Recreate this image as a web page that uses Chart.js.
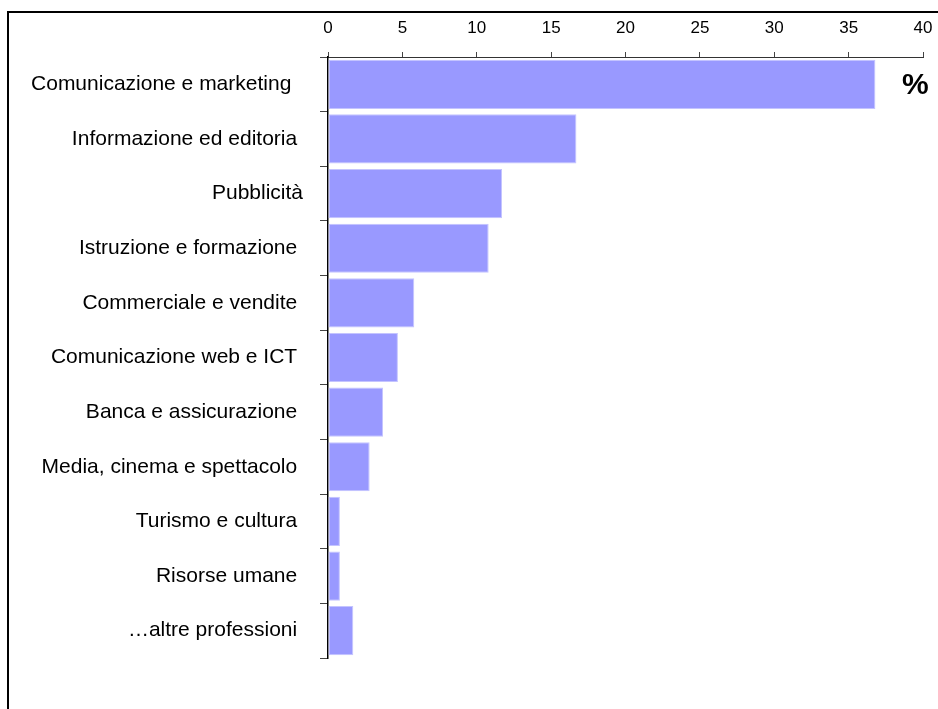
<!DOCTYPE html>
<html lang="it">
<head>
    <meta charset="UTF-8">
    <title>Professioni</title>
    <script src="https://cdn.jsdelivr.net/npm/chart.js"></script>
    <style>
        html, body { margin: 0; padding: 0; background: #fff; overflow: hidden; }
        #frame { position: absolute; left: 7px; top: 11px; width: 1000px; height: 800px; border: 2px solid #000; }
        #wrap { position: absolute; left: 0; top: 0; width: 938px; height: 709px; }
        #pct { position: absolute; left: 902px; top: 67px; font: bold 30px "Liberation Sans", Arial, sans-serif; color: #000; }
    </style>
</head>
<body>
    <div id="frame"></div>
    <div id="wrap"><canvas id="chart" width="938" height="709"></canvas></div>
    <div id="pct">%</div>

    <script>
        // categories (trailing spaces as in the source labels) and percentages
        const categories = [
            'Comunicazione e marketing  ',
            'Informazione ed editoria ',
            'Pubblicità',
            'Istruzione e formazione ',
            'Commerciale e vendite ',
            'Comunicazione web e ICT ',
            'Banca e assicurazione ',
            'Media, cinema e spettacolo ',
            'Turismo e cultura ',
            'Risorse umane ',
            '…altre professioni '
        ];
        const percentages = [36.8, 16.7, 11.7, 10.8, 5.8, 4.7, 3.7, 2.8, 0.8, 0.8, 1.7];
        const xTicks = [0, 5, 10, 15, 20, 25, 30, 35, 40];

        const ctx = document.getElementById('chart').getContext('2d');
        new Chart(ctx, {
            type: 'bar',
            data: {
                labels: categories,
                datasets: [{
                    data: percentages,
                    backgroundColor: '#9999ff',
                    borderColor: '#c4c4ff',
                    borderWidth: 1,
                    borderSkipped: false,
                    categoryPercentage: 0.9,
                    barPercentage: 1
                }]
            },
            options: {
                indexAxis: 'y',
                responsive: false,
                animation: false,
                layout: { padding: { left: 0, top: 0, right: 15, bottom: 51 } },
                plugins: { legend: { display: false }, tooltip: { enabled: false } },
                scales: {
                    x: {
                        position: 'top',
                        min: xTicks[0],
                        max: xTicks[xTicks.length - 1],
                        afterBuildTicks: scale => { scale.ticks = xTicks.map(v => ({ value: v })); },
                        afterFit: scale => {
                            scale.height = 57;
                            scale.paddingLeft = 0;
                            scale.paddingRight = 0;
                        },
                        grid: { drawOnChartArea: false, tickLength: 5, color: '#444' },
                        border: { color: '#333', width: 1 },
                        ticks: { color: '#000', padding: 13, maxRotation: 0, font: { family: '"Liberation Sans", Arial, sans-serif', size: 17 } }
                    },
                    y: {
                        afterFit: scale => {
                            scale.width = 328;
                            scale.paddingTop = 0;
                            scale.paddingBottom = 0;
                        },
                        grid: { drawOnChartArea: false, tickLength: 8, color: '#444', offset: true },
                        border: { color: '#000', width: 1.5 },
                        ticks: { color: '#000', padding: 17, font: { family: '"Liberation Sans", Arial, sans-serif', size: 21 } }
                    }
                }
            }
        });
    </script>
</body>
</html>
